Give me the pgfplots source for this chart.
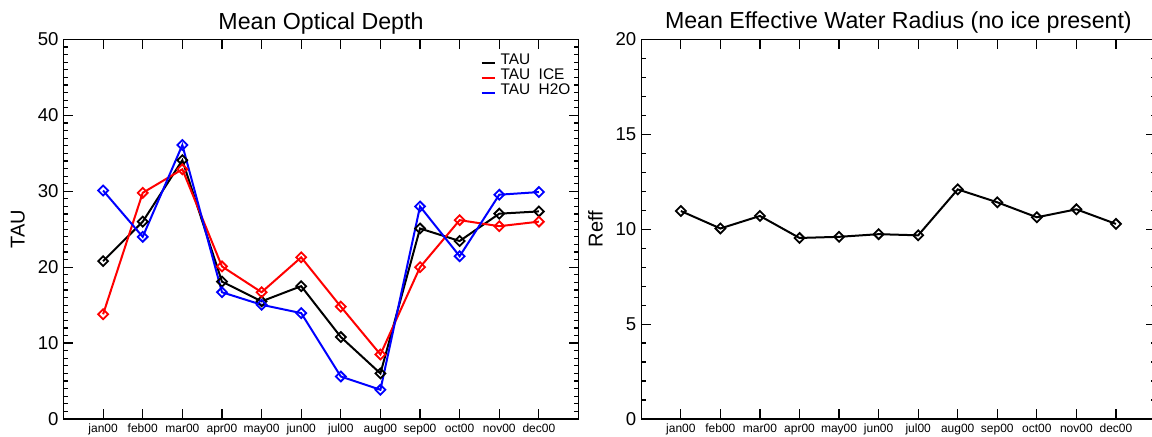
\documentclass[border=0pt]{standalone}
\usepackage{pgfplots}
\pgfplotsset{compat=1.18}
\usepackage{fontspec}
\setmainfont{Liberation Sans}
\pgfplotsset{
  common/.style={
    scale only axis,
    width=257.5pt, height=189.75pt,
    xmin=-1, xmax=12,
    xtick={0,...,11},
    xticklabels={jan00,feb00,mar00,apr00,may00,jun00,jul00,aug00,sep00,oct00,nov00,dec00},
    tick align=inside,
    major tick length=4.8pt, minor tick length=2.4pt,
    axis line style={line width=0.6pt},
    every tick/.style={black, line width=0.6pt},
    /pgf/number format/assume math mode=true,
    yticklabel style={font=\fontsize{9.3}{10}\selectfont, inner sep=0pt, xshift=-2.3pt},
    xticklabel style={font=\fontsize{6}{6}\selectfont, inner sep=0pt, anchor=base, yshift=-7pt},
    every axis title/.style={font=\fontsize{11.6}{12}\selectfont, at={(axis description cs:0.5,1)}, anchor=base, yshift=5.25pt},
    ylabel style={font=\fontsize{9}{10}\selectfont},
  },
  dia/.style={mark=square, mark size=1.75pt, mark options={solid, rotate=45, line width=0.9pt}, line width=1pt},
}
\begin{document}
\begin{tikzpicture}[x=1pt,y=1pt]
\begin{axis}[common,
  at={(31.75pt,9pt)}, anchor=south west,
  ymin=0, ymax=50, ytick={0,10,...,50}, minor y tick num=9,
  title={Mean Optical Depth},
  ylabel={TAU},
  every axis y label/.style={at={(axis description cs:-0.0887,0.5)}, rotate=90, anchor=center},
  legend style={at={(axis description cs:0.809,0.965)}, anchor=north west, draw=none, fill=none, inner sep=0pt,
    font=\fontsize{7.7}{7.7}\selectfont,
    nodes={inner sep=0pt, text height=5.5pt, text depth=0pt},
    row sep=2pt, /tikz/column sep=2.5pt},
  legend cell align=left,
  legend image code/.code={\draw[#1, line width=1pt] (0pt,-2.25pt) -- (6.5pt,-2.25pt);},
]
\addplot[dia, black] coordinates {(0,20.8) (1,26.0) (2,34.1) (3,18.1) (4,15.5) (5,17.5) (6,10.8) (7,6.0) (8,25.1) (9,23.45) (10,27.05) (11,27.35)};
\addlegendentry{TAU}
\addplot[dia, red] coordinates {(0,13.8) (1,29.8) (2,32.9) (3,20.1) (4,16.7) (5,21.3) (6,14.8) (7,8.5) (8,20.0) (9,26.2) (10,25.4) (11,26.0)};
\addlegendentry{TAU\ \ ICE}
\addplot[dia, blue] coordinates {(0,30.1) (1,24.0) (2,36.1) (3,16.7) (4,15.05) (5,13.95) (6,5.6) (7,3.85) (8,28.0) (9,21.45) (10,29.55) (11,29.9)};
\addlegendentry{TAU\ \ H2O}
\end{axis}
\begin{axis}[common,
  at={(320.65pt,9pt)}, anchor=south west, width=257.1pt,
  ymin=0, ymax=20, ytick={0,5,...,20}, minor y tick num=4,
  title={Mean Effective Water Radius (no ice present)},
  ylabel={Reff},
  every axis y label/.style={at={(axis description cs:-0.089,0.5)}, rotate=90, anchor=center},
]
\addplot[dia, black] coordinates {(0,10.96) (1,10.04) (2,10.7) (3,9.54) (4,9.6) (5,9.74) (6,9.68) (7,12.1) (8,11.42) (9,10.63) (10,11.05) (11,10.28)};
\end{axis}
\pgfresetboundingbox
\path[use as bounding box] (0,0) rectangle (576,218.5);
\end{tikzpicture}
\end{document}
